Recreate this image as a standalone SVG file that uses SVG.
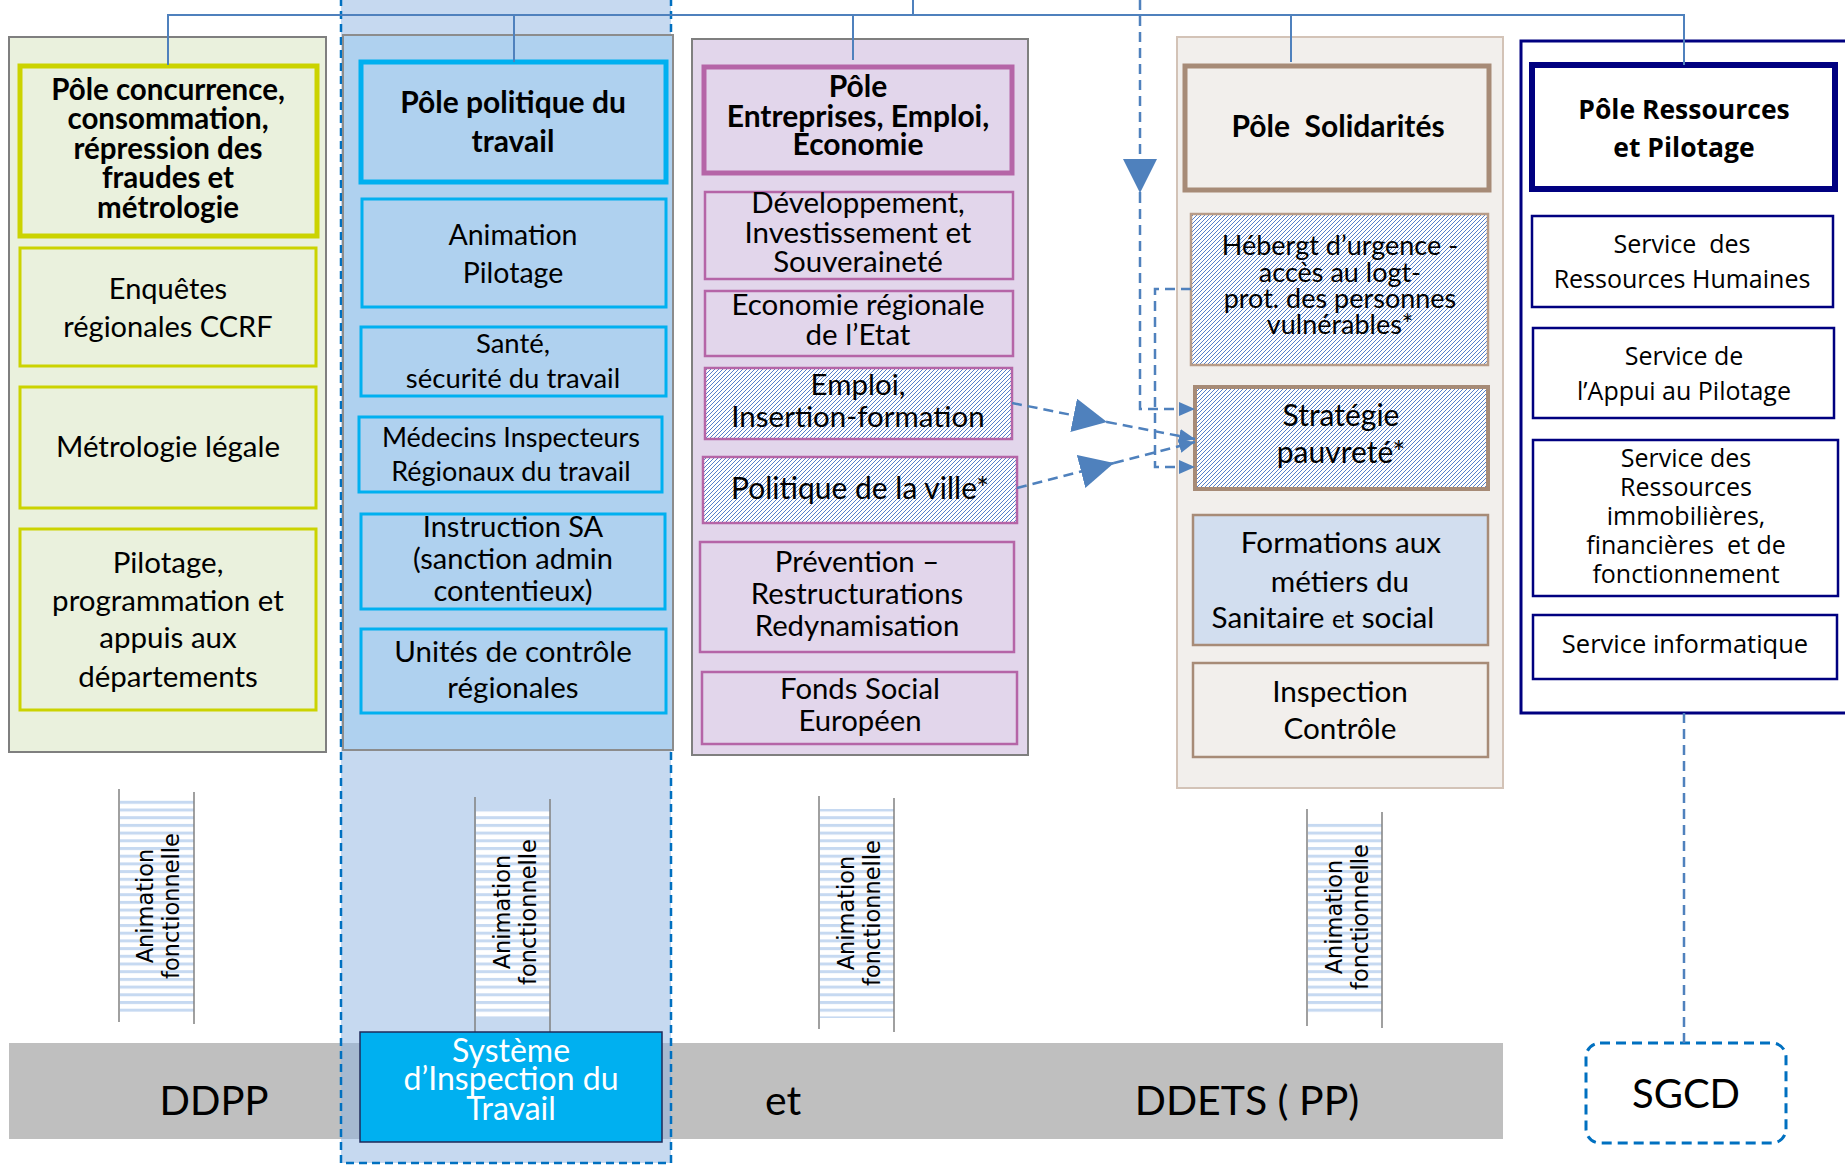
<svg xmlns="http://www.w3.org/2000/svg" width="1845" height="1168" viewBox="0 0 1845 1168">
<style>
.t{font-family:Lato,"Liberation Sans",sans-serif;fill:#000;text-anchor:middle}
.b{font-weight:bold}
.o{font-family:"Open Sans","Liberation Sans",sans-serif;fill:#000;text-anchor:middle}
.v{font-family:"DejaVu Sans","Liberation Sans",sans-serif;fill:#000;text-anchor:middle;font-size:22.5px}
.w{fill:#fff}
.c1{fill:#EAF1DD;stroke:#CBD300}
.c2{fill:#AFD1EF;stroke:#00B0F0}
.c3{fill:#E2D6EB;stroke:#B565A7}
.c4{fill:#F2EFEC;stroke:#A78B77}
.c5{fill:#fff;stroke:#000080}
.h{fill:url(#hatch)}
.sl{stroke:#808080;stroke-width:1.5}
.tree{fill:none;stroke:#4F81BD;stroke-width:2}
.dash{fill:none;stroke:#4F81BD;stroke-width:2.5;stroke-dasharray:10 6}
</style>
<defs>
<pattern id="hatch" patternUnits="userSpaceOnUse" width="4" height="4">
<rect width="4" height="4" fill="#fff"/>
<path d="M-1,1 l2,-2 M0,4 l4,-4 M3,5 l2,-2" stroke="#4472C4" stroke-width="0.9"/>
</pattern>
<pattern id="stripes" patternUnits="userSpaceOnUse" width="10" height="7.7">
<rect width="10" height="7.7" fill="#fff"/>
<rect width="10" height="3" fill="#C6D9F1"/>
</pattern>
<marker id="big" markerUnits="userSpaceOnUse" viewBox="0 0 34 34" markerWidth="34" markerHeight="34" refX="34" refY="17" orient="auto">
<path d="M0,0 L34,17 L0,34 z" fill="#4F81BD"/>
</marker>
<marker id="small" markerUnits="userSpaceOnUse" viewBox="0 0 16 16" markerWidth="16" markerHeight="16" refX="16" refY="8" orient="auto">
<path d="M0,1 L16,8 L0,15 z" fill="#4F81BD"/>
</marker>
</defs>

<!-- bottom band -->
<rect id="band" x="9" y="1043" width="1494" height="96" fill="#BFBFBF"/>

<!-- blue dashed region -->
<rect id="sit-region" x="341" y="-10" width="330" height="1173" fill="#8DB3E2" fill-opacity="0.5" stroke="#0070C0" stroke-width="2.5" stroke-dasharray="8 5"/>

<!-- columns -->
<rect x="9" y="37" width="317" height="715" fill="#EAF1DD" stroke="#7F7F7F" stroke-width="2"/>
<rect x="343" y="35" width="330" height="715" fill="#AFD1EF" stroke="#8C8C8C" stroke-width="2"/>
<rect x="692" y="39" width="336" height="716" fill="#E2D6EB" stroke="#7F7F7F" stroke-width="2"/>
<rect x="1177" y="37" width="326" height="751" fill="#F2EFEC" stroke="#D3C3B7" stroke-width="2"/>
<rect x="1521" y="41" width="330" height="672" fill="#fff" stroke="#000080" stroke-width="3"/>

<!-- column 1 -->
<g id="n-pole-concurrence">
<rect class="c1" x="20" y="66" width="297" height="170" stroke-width="5"/>
<text class="t b" font-size="29.5"><tspan x="168" y="100">Pôle concurrence,</tspan><tspan x="168" y="129">consommation,</tspan><tspan x="168" y="159">répression des</tspan><tspan x="168" y="188">fraudes et</tspan><tspan x="168" y="218">métrologie</tspan></text>
</g>
<g id="n-enquetes">
<rect class="c1" x="20" y="248" width="296" height="118" stroke-width="3"/>
<text class="t" font-size="29"><tspan x="168" y="299">Enquêtes</tspan><tspan x="168" y="337">régionales CCRF</tspan></text>
</g>
<g id="n-metrologie">
<rect class="c1" x="20" y="387" width="296" height="121" stroke-width="3"/>
<text class="t" font-size="29.5" x="168" y="457">Métrologie légale</text>
</g>
<g id="n-pilotage-dep">
<rect class="c1" x="20" y="529" width="296" height="181" stroke-width="3"/>
<text class="t" font-size="29.5"><tspan x="168" y="573">Pilotage,</tspan><tspan x="168" y="611">programmation et</tspan><tspan x="168" y="648">appuis aux</tspan><tspan x="168" y="687">départements</tspan></text>
</g>

<!-- column 2 -->
<g id="n-pole-travail">
<rect class="c2" x="361" y="62" width="305" height="120" stroke-width="5"/>
<text class="t b" font-size="30"><tspan x="513" y="113">Pôle politique du</tspan><tspan x="513" y="152">travail</tspan></text>
</g>
<g id="n-animation">
<rect class="c2" x="362" y="199" width="304" height="108" stroke-width="3"/>
<text class="t" font-size="28.5"><tspan x="513" y="245">Animation</tspan><tspan x="513" y="283">Pilotage</tspan></text>
</g>
<g id="n-sante">
<rect class="c2" x="361" y="327" width="305" height="69" stroke-width="3"/>
<text class="t" font-size="27.5"><tspan x="513" y="353">Santé,</tspan><tspan x="513" y="388">sécurité du travail</tspan></text>
</g>
<g id="n-medecins">
<rect class="c2" x="359" y="417" width="303" height="75" stroke-width="3"/>
<text class="t" font-size="27"><tspan x="511" y="447">Médecins Inspecteurs</tspan><tspan x="511" y="481">Régionaux du travail</tspan></text>
</g>
<g id="n-instruction">
<rect class="c2" x="361" y="514" width="304" height="95" stroke-width="3"/>
<text class="t" font-size="29"><tspan x="513" y="537">Instruction SA</tspan><tspan x="513" y="569">(sanction admin</tspan><tspan x="513" y="601">contentieux)</tspan></text>
</g>
<g id="n-unites">
<rect class="c2" x="361" y="629" width="305" height="84" stroke-width="3"/>
<text class="t" font-size="29.5"><tspan x="513" y="662">Unités de contrôle</tspan><tspan x="513" y="698">régionales</tspan></text>
</g>

<!-- column 3 -->
<g id="n-pole-entreprises">
<rect class="c3" x="704" y="67" width="308" height="106" stroke-width="5"/>
<text class="t b" font-size="30"><tspan x="858" y="97">Pôle</tspan><tspan x="858" y="127">Entreprises, Emploi,</tspan><tspan x="858" y="155">Economie</tspan></text>
</g>
<g id="n-developpement">
<rect class="c3" x="705" y="192" width="308" height="87" stroke-width="2.5"/>
<text class="t" font-size="29.5"><tspan x="858" y="213">Développement,</tspan><tspan x="858" y="243">Investissement et</tspan><tspan x="858" y="272">Souveraineté</tspan></text>
</g>
<g id="n-eco-regionale">
<rect class="c3" x="705" y="291" width="308" height="65" stroke-width="2.5"/>
<text class="t" font-size="29.5"><tspan x="858" y="315">Economie régionale</tspan><tspan x="858" y="345">de l’Etat</tspan></text>
</g>
<g id="n-emploi">
<rect class="h" x="705" y="368" width="307" height="71" stroke="#B565A7" stroke-width="2.5"/>
<text class="t" font-size="29.5"><tspan x="858" y="395">Emploi,</tspan><tspan x="858" y="427">Insertion-formation</tspan></text>
</g>
<g id="n-ville">
<rect class="h" x="703" y="457" width="314" height="66" stroke="#B565A7" stroke-width="2.5"/>
<text class="t" font-size="30" x="860" y="499">Politique de la ville*</text>
</g>
<g id="n-prevention">
<rect class="c3" x="700" y="542" width="314" height="110" stroke-width="2.5"/>
<text class="t" font-size="29.3"><tspan x="857" y="572">Prévention –</tspan><tspan x="857" y="604">Restructurations</tspan><tspan x="857" y="636">Redynamisation</tspan></text>
</g>
<g id="n-fse">
<rect class="c3" x="702" y="672" width="315" height="72" stroke-width="2.5"/>
<text class="t" font-size="29.3"><tspan x="860" y="699">Fonds Social</tspan><tspan x="860" y="731">Européen</tspan></text>
</g>

<!-- column 4 -->
<g id="n-pole-solidarites">
<rect class="c4" x="1185" y="66" width="304" height="124" stroke-width="5"/>
<text class="t b" font-size="30" x="1338" y="137">Pôle&#160; Solidarités</text>
</g>
<g id="n-hebergement">
<rect class="h" x="1191" y="214" width="297" height="151" stroke="#B89C88" stroke-width="2.5"/>
<text class="t" font-size="27"><tspan x="1340" y="255">Hébergt d’urgence -</tspan><tspan x="1340" y="282">accès au logt-</tspan><tspan x="1340" y="308">prot. des personnes</tspan><tspan x="1340" y="334">vulnérables*</tspan></text>
</g>
<g id="n-strategie">
<rect class="h" x="1195" y="387" width="293" height="102" stroke="#A78B77" stroke-width="4"/>
<text class="t" font-size="30"><tspan x="1341" y="426">Stratégie</tspan><tspan x="1341" y="463">pauvreté*</tspan></text>
</g>
<g id="n-formations">
<rect x="1193" y="515" width="295" height="130" fill="#D2DEEF" stroke="#A78B77" stroke-width="2.5"/>
<text class="t" font-size="29.7"><tspan x="1341" y="553">Formations aux</tspan><tspan x="1340" y="592">métiers du</tspan><tspan x="1323" y="628">Sanitaire <tspan font-size="25">et</tspan> social</tspan></text>
</g>
<g id="n-inspection">
<rect class="c4" x="1193" y="663" width="295" height="94" stroke-width="2.5"/>
<text class="t" font-size="29.7"><tspan x="1340" y="702">Inspection</tspan><tspan x="1340" y="739">Contrôle</tspan></text>
</g>

<!-- column 5 -->
<g id="n-pole-ressources">
<rect class="c5" x="1532" y="65" width="303" height="124" stroke="#000066" stroke-width="6"/>
<text class="o b" font-size="26.5"><tspan x="1684" y="119">Pôle Ressources</tspan><tspan x="1684" y="157">et Pilotage</tspan></text>
</g>
<g id="n-rh">
<rect class="c5" x="1532" y="216" width="301" height="91" stroke-width="2.5"/>
<text class="o" font-size="25"><tspan x="1682" y="253">Service&#160; des</tspan><tspan x="1682" y="288">Ressources Humaines</tspan></text>
</g>
<g id="n-appui">
<rect class="c5" x="1533" y="328" width="301" height="90" stroke-width="2.5"/>
<text class="o" font-size="25"><tspan x="1684" y="365">Service de</tspan><tspan x="1684" y="400">l’Appui au Pilotage</tspan></text>
</g>
<g id="n-immo">
<rect class="c5" x="1533" y="440" width="305" height="156" stroke-width="2.5"/>
<text class="o" font-size="25"><tspan x="1686" y="467">Service des</tspan><tspan x="1686" y="496">Ressources</tspan><tspan x="1686" y="525">immobilières,</tspan><tspan x="1686" y="554">financières&#160; et de</tspan><tspan x="1686" y="583">fonctionnement</tspan></text>
</g>
<g id="n-info">
<rect class="c5" x="1533" y="615" width="304" height="64" stroke-width="2.5"/>
<text class="o" font-size="25.5" x="1685" y="653">Service informatique</text>
</g>

<!-- animation strips -->
<g id="strip-1">
<rect x="120" y="800" width="74" height="212" fill="url(#stripes)"/>
<line class="sl" x1="119" y1="789" x2="119" y2="1022"/><line class="sl" x1="194" y1="792" x2="194" y2="1024"/>
<text class="v" transform="translate(153,906) rotate(-90)"><tspan x="0" y="0">Animation</tspan><tspan x="0" y="26">fonctionnelle</tspan></text>
</g>
<g id="strip-2">
<rect x="476" y="809" width="74" height="208" fill="url(#stripes)"/>
<line class="sl" x1="475" y1="797" x2="475" y2="1032"/><line class="sl" x1="550" y1="799" x2="550" y2="1032"/>
<text class="v" transform="translate(510,912) rotate(-90)"><tspan x="0" y="0">Animation</tspan><tspan x="0" y="26">fonctionnelle</tspan></text>
</g>
<g id="strip-3">
<rect x="820" y="809" width="74" height="209" fill="url(#stripes)"/>
<line class="sl" x1="819" y1="796" x2="819" y2="1029"/><line class="sl" x1="894" y1="798" x2="894" y2="1032"/>
<text class="v" transform="translate(854,913) rotate(-90)"><tspan x="0" y="0">Animation</tspan><tspan x="0" y="26">fonctionnelle</tspan></text>
</g>
<g id="strip-4">
<rect x="1308" y="822" width="74" height="193" fill="url(#stripes)"/>
<line class="sl" x1="1307" y1="809" x2="1307" y2="1026"/><line class="sl" x1="1382" y1="812" x2="1382" y2="1028"/>
<text class="v" transform="translate(1342,917) rotate(-90)"><tspan x="0" y="0">Animation</tspan><tspan x="0" y="26">fonctionnelle</tspan></text>
</g>

<!-- bottom labels -->
<g id="n-ddpp"><text class="t" font-size="40" x="214" y="1115">DDPP</text></g>
<g id="n-et"><text class="t" font-size="41" x="783" y="1115">et</text></g>
<g id="n-ddets"><text class="t" font-size="41" x="1247" y="1115">DDETS ( PP)</text></g>
<g id="n-sit">
<rect x="360" y="1032" width="302" height="110" fill="#00B0F0" stroke="#1F2A5A" stroke-width="1.5"/>
<text class="t w" font-size="32"><tspan x="511" y="1062">Système</tspan><tspan x="511" y="1090">d’Inspection du</tspan><tspan x="511" y="1120">Travail</tspan></text>
</g>
<g id="n-sgcd">
<rect x="1586" y="1043" width="200" height="100" rx="14" fill="#fff" stroke="#0070C0" stroke-width="3" stroke-dasharray="10 6"/>
<text class="t" font-size="40" x="1686" y="1108">SGCD</text>
</g>

<!-- connectors -->
<g id="connectors">
<path class="tree" d="M168,65 V15 H1684 V65"/>
<path class="tree" d="M514,62 V15 M853,60 V15 M1291,62 V15 M913,0 V15"/>
<path class="dash" d="M1140,0 V193" marker-end="url(#big)"/>
<path class="dash" d="M1140,193 V409 H1195" marker-end="url(#small)"/>
<path class="dash" d="M1191,289 H1155 V467 H1195" marker-end="url(#small)"/>
<path class="dash" d="M1012,403 L1107,422" marker-end="url(#big)"/>
<path class="dash" d="M1107,422 L1195,439" marker-end="url(#small)"/>
<path class="dash" d="M1017,488 L1114,463" marker-end="url(#big)"/>
<path class="dash" d="M1114,463 L1195,442" marker-end="url(#small)"/>
<path class="dash" d="M1684,713 V1043" stroke-width="2" stroke-dasharray="9 7"/>
</g>
</svg>
